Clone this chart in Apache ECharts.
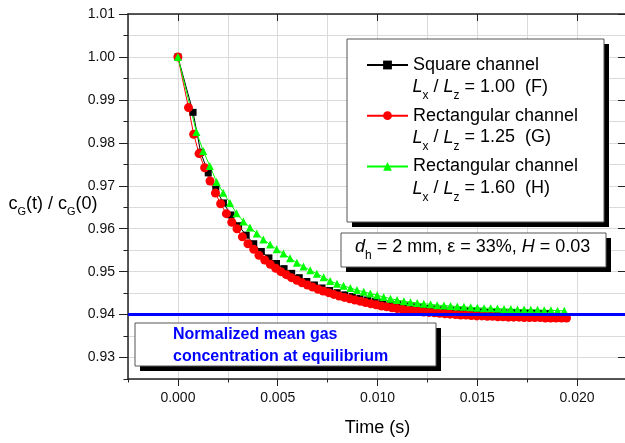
<!DOCTYPE html>
<html>
<head>
<meta charset="utf-8">
<script src="https://cdn.jsdelivr.net/npm/echarts@6/dist/echarts.min.js"></script>
<style>
  html, body { margin: 0; padding: 0; background: #fff; }
  #chart { width: 625px; height: 443px; }
</style>
</head>
<body>
<div id="chart"></div>
<script>
// tick labels
const xTicks = [0, 0.005, 0.010, 0.015, 0.020];
const yTicks = [0.93, 0.94, 0.95, 0.96, 0.97, 0.98, 0.99, 1.00, 1.01];
const equilibrium = 0.94;

// (F) square channel, Lx/Lz = 1.00
const tSquare = [0, 0.00076, 0.00114, 0.00152, 0.00190, 0.00228, 0.00266, 0.00304, 0.00342, 0.00380,
  0.00418, 0.00456, 0.00494, 0.00532, 0.00570, 0.00608, 0.00646, 0.00684, 0.00722, 0.00760,
  0.00798, 0.00836, 0.00874, 0.00912, 0.00950, 0.00988, 0.01026, 0.01064, 0.01102, 0.01140,
  0.01178, 0.01216, 0.01254, 0.01292, 0.01330, 0.01368, 0.01406, 0.01444, 0.01482, 0.01520,
  0.01558, 0.01596, 0.01634, 0.01672, 0.01710, 0.01748, 0.01786, 0.01824, 0.01862];
const cSquare = [1.0000, 0.9871, 0.9778, 0.9730, 0.9692, 0.9660, 0.9632, 0.9607, 0.9585, 0.9565,
  0.9547, 0.9532, 0.9519, 0.9507, 0.9496, 0.9486, 0.9477, 0.9469, 0.9462, 0.9456,
  0.9451, 0.9446, 0.9442, 0.9438, 0.9434, 0.9431, 0.9428, 0.9425, 0.9423, 0.9420,
  0.9418, 0.9416, 0.9414, 0.9413, 0.9411, 0.9410, 0.9409, 0.9408, 0.9407, 0.9406,
  0.9405, 0.9405, 0.9404, 0.9404, 0.9403, 0.9403, 0.9403, 0.9402, 0.9402];

// (G) rectangular channel, Lx/Lz = 1.25
const tRect125 = [0, 0.00053, 0.00079, 0.00106, 0.00134, 0.00161, 0.00188, 0.00214, 0.00243, 0.00270,
  0.00296, 0.00323, 0.00351, 0.00380, 0.00406, 0.00435, 0.00463, 0.00490, 0.00516, 0.00543,
  0.00569, 0.00596, 0.00622, 0.00649, 0.00675, 0.00702, 0.00728, 0.00755, 0.00781, 0.00808,
  0.00834, 0.00861, 0.00887, 0.00914, 0.00940, 0.00967, 0.00993, 0.01020, 0.01046, 0.01073,
  0.01099, 0.01126, 0.01152, 0.01179, 0.01205, 0.01232, 0.01258, 0.01285, 0.01311, 0.01338,
  0.01364, 0.01391, 0.01417, 0.01444, 0.01470, 0.01497, 0.01523, 0.01550, 0.01576, 0.01603,
  0.01629, 0.01656, 0.01682, 0.01709, 0.01735, 0.01762, 0.01788, 0.01815, 0.01841, 0.01868,
  0.01894, 0.01921, 0.01947];
const cRect125 = [1.0000, 0.9882, 0.9820, 0.9775, 0.9742, 0.9711, 0.9683, 0.9658, 0.9635, 0.9615,
  0.9600, 0.9581, 0.9565, 0.9552, 0.9538, 0.9527, 0.9517, 0.9508, 0.9500, 0.9493,
  0.9486, 0.9480, 0.9474, 0.9469, 0.9464, 0.9459, 0.9455, 0.9451, 0.9447, 0.9443,
  0.9440, 0.9437, 0.9434, 0.9431, 0.9428, 0.9425, 0.9423, 0.9420, 0.9418, 0.9416,
  0.9414, 0.9412, 0.9410, 0.9409, 0.9407, 0.9406, 0.9405, 0.9404, 0.9403, 0.9402,
  0.9401, 0.9400, 0.9399, 0.9399, 0.9398, 0.9397, 0.9397, 0.9396, 0.9396, 0.9395,
  0.9395, 0.9394, 0.9394, 0.9394, 0.9393, 0.9393, 0.9393, 0.9393, 0.9392, 0.9392,
  0.9392, 0.9392, 0.9392];

// (H) rectangular channel, Lx/Lz = 1.60
const tRect160 = [0, 0.00093, 0.00127, 0.00160, 0.00194, 0.00227, 0.00261, 0.00294, 0.00328, 0.00361,
  0.00395, 0.00428, 0.00462, 0.00495, 0.00529, 0.00562, 0.00596, 0.00629, 0.00663, 0.00696,
  0.00730, 0.00763, 0.00797, 0.00830, 0.00864, 0.00897, 0.00931, 0.00964, 0.00998, 0.01031,
  0.01065, 0.01098, 0.01132, 0.01165, 0.01199, 0.01232, 0.01266, 0.01299, 0.01333, 0.01366,
  0.01400, 0.01433, 0.01467, 0.01500, 0.01534, 0.01567, 0.01601, 0.01634, 0.01668, 0.01701,
  0.01735, 0.01768, 0.01802, 0.01835, 0.01869, 0.01902, 0.01936];
const cRect160 = [1.0000, 0.9825, 0.9781, 0.9746, 0.9709, 0.9684, 0.9660, 0.9636, 0.9617, 0.9603,
  0.9589, 0.9575, 0.9563, 0.9552, 0.9542, 0.9531, 0.9521, 0.9512, 0.9503, 0.9495,
  0.9487, 0.9478, 0.9472, 0.9467, 0.9462, 0.9457, 0.9453, 0.9449, 0.9445, 0.9441,
  0.9437, 0.9434, 0.9431, 0.9429, 0.9427, 0.9425, 0.9424, 0.9422, 0.9421, 0.9420,
  0.9419, 0.9418, 0.9417, 0.9416, 0.9415, 0.9415, 0.9414, 0.9413, 0.9413, 0.9412,
  0.9412, 0.9411, 0.9411, 0.9410, 0.9410, 0.9409, 0.9409];

const seriesNames = ['F', 'G', 'H'];
const legendLines = ['Square channel', 'Rectangular channel', 'Rectangular channel'];
const ratioLabels = ['1.00  (F)', '1.25  (G)', '1.60  (H)'];

const FONT = '"Liberation Sans", Arial, sans-serif';
const AXIS = '#222';

function zip(t, c) {
  const n = Math.min(t.length, c.length);
  const out = [];
  for (let i = 0; i < n; i++) out.push([t[i], c[i]]);
  return out;
}

// lays out runs of text (italics, subscripts) as graphic text pieces
const measure = document.createElement('canvas').getContext('2d');
function textRun(x, baseline, parts, color, bold) {
  const out = [];
  let cx = x;
  parts.forEach(p => {
    const size = p.size || 18;
    const italic = p.italic ? 'italic' : 'normal';
    const weight = bold ? 'bold' : 'normal';
    measure.font = italic + ' ' + weight + ' ' + size + 'px ' + FONT;
    out.push({
      type: 'text', z: 20, silent: true,
      x: cx, y: baseline + (p.dy || 0) - 0.35 * size,
      style: {
        text: p.t, fill: color, fontSize: size, fontFamily: FONT,
        fontStyle: italic, fontWeight: weight,
        align: 'left', verticalAlign: 'middle'
      }
    });
    cx += measure.measureText(p.t).width;
  });
  return out;
}

function shadowBox(x, y, w, h) {
  return [
    { type: 'rect', z: 10, silent: true, shape: { x: x + 5, y: y + 5, width: w, height: h }, style: { fill: '#000' } },
    { type: 'rect', z: 11, silent: true, shape: { x: x, y: y, width: w, height: h }, style: { fill: '#fff', stroke: '#555', lineWidth: 1 } }
  ];
}

const graphics = [];
graphics.push(...shadowBox(347, 39, 257, 183));
graphics.push(...shadowBox(341, 233, 265, 34));
graphics.push(...shadowBox(135, 323, 301, 43));

// second line of each legend entry
const ratioBaselines = [93.3, 143.8, 194.8];
ratioLabels.forEach((r, i) => {
  graphics.push(...textRun(412.5, ratioBaselines[i], [
    { t: 'L', italic: true }, { t: 'x', size: 12, dy: 7 },
    { t: ' / ' }, { t: 'L', italic: true }, { t: 'z', size: 12, dy: 7 },
    { t: ' = ' + r }
  ], '#000'));
});

// parameters box
graphics.push(...textRun(355, 253.3, [
  { t: 'd', italic: true }, { t: 'h', size: 12, dy: 7 },
  { t: ' = 2 mm, ε = 33%, ' }, { t: 'H', italic: true }, { t: ' = 0.03' }
], '#000'));

// equilibrium note
graphics.push(...textRun(173, 340.5, [{ t: 'Normalized mean gas', size: 16 }], '#0000ff', true));
graphics.push(...textRun(173, 361.7, [{ t: 'concentration at equilibrium', size: 16 }], '#0000ff', true));

// y axis title
graphics.push(...textRun(8.5, 210, [
  { t: 'c' }, { t: 'G', size: 11, dy: 6 }, { t: '(t) / c' }, { t: 'G', size: 11, dy: 6 }, { t: '(0)' }
], '#000'));

const chart = echarts.init(document.getElementById('chart'), null, { renderer: 'canvas' });

const xRange = { min: -0.0025, max: 0.0225 };
const yRange = { min: 0.925, max: 1.01 };

const option = {
  animation: false,
  textStyle: { fontFamily: FONT },
  grid: { left: 128, top: 14, width: 499, height: 365, containLabel: false, outerBoundsMode: 'none' },
  legend: {
    orient: 'vertical',
    left: 366, top: 56, padding: 0,
    itemWidth: 41, itemHeight: 11, itemGap: 32.7,
    selectedMode: false,
    data: seriesNames,
    formatter: name => legendLines[seriesNames.indexOf(name)],
    textStyle: { fontSize: 18, color: '#000', lineHeight: 18, fontFamily: FONT },
    z: 15
  },
  xAxis: [
    {
      type: 'value', ...xRange, interval: 0.0025, position: 'bottom',
      axisLine: { show: true, onZero: false, lineStyle: { color: AXIS, width: 1.5 } },
      axisTick: { show: true, length: 3.5, lineStyle: { color: AXIS } },
      axisLabel: { show: false },
      splitLine: { show: true, lineStyle: { color: '#dadada', width: 1 } }
    },
    {
      type: 'value', ...xRange, position: 'bottom',
      axisLine: { show: false, onZero: false },
      axisTick: { show: true, length: 7, customValues: xTicks, lineStyle: { color: AXIS } },
      axisLabel: {
        show: true, customValues: xTicks, margin: 12, fontSize: 14, color: '#111',
        formatter: v => v.toFixed(3)
      },
      splitLine: { show: false },
      name: 'Time (s)', nameLocation: 'middle', nameGap: 40,
      nameTextStyle: { fontSize: 18, color: '#000' }
    },
    {
      type: 'value', ...xRange, position: 'top',
      axisLine: { show: true, onZero: false, lineStyle: { color: AXIS, width: 1.5 } },
      axisTick: { show: true, inside: true, length: 7, customValues: xTicks, lineStyle: { color: AXIS } },
      axisLabel: { show: false },
      splitLine: { show: false }
    }
  ],
  yAxis: [
    {
      type: 'value', ...yRange, interval: 0.005, position: 'left',
      axisLine: { show: true, onZero: false, lineStyle: { color: AXIS, width: 1.5 } },
      axisTick: { show: true, length: 4.5, lineStyle: { color: AXIS } },
      axisLabel: { show: false },
      splitLine: { show: true, lineStyle: { color: '#dadada', width: 1 } }
    },
    {
      type: 'value', ...yRange, position: 'left',
      axisLine: { show: false, onZero: false },
      axisTick: { show: true, length: 9, customValues: yTicks, lineStyle: { color: AXIS } },
      axisLabel: {
        show: true, customValues: yTicks, margin: 13, fontSize: 14, color: '#111',
        formatter: v => v.toFixed(2)
      },
      splitLine: { show: false }
    },
    {
      type: 'value', ...yRange, interval: 0.005, position: 'right',
      axisLine: { show: true, onZero: false, lineStyle: { color: AXIS, width: 1.5 } },
      axisTick: { show: true, inside: true, length: 9, customValues: yTicks, lineStyle: { color: AXIS } },
      axisLabel: { show: false },
      splitLine: { show: false }
    }
  ],
  series: [
    {
      name: 'F', type: 'line', xAxisIndex: 0, yAxisIndex: 0,
      data: zip(tSquare, cSquare),
      symbol: 'rect', symbolSize: 7,
      itemStyle: { color: '#000', borderWidth: 0 },
      lineStyle: { color: '#000', width: 1 }
    },
    {
      name: 'G', type: 'line', xAxisIndex: 0, yAxisIndex: 0,
      data: zip(tRect125, cRect125),
      symbol: 'circle', symbolSize: 9,
      itemStyle: { color: '#ff0000', borderWidth: 0 },
      lineStyle: { color: '#ff0000', width: 1 }
    },
    {
      name: 'H', type: 'line', xAxisIndex: 0, yAxisIndex: 0,
      data: zip(tRect160, cRect160),
      symbol: 'triangle', symbolSize: 8,
      itemStyle: { color: '#00ff00', borderWidth: 0 },
      lineStyle: { color: '#00ff00', width: 1 }
    },
    {
      // equilibrium level, drawn above the curves
      name: 'equilibrium', type: 'line', xAxisIndex: 0, yAxisIndex: 0,
      data: [], z: 6,
      markLine: {
        silent: true, symbol: ['none', 'none'], animation: false,
        label: { show: false },
        lineStyle: { color: '#0000ff', width: 3, type: 'solid' },
        data: [{ yAxis: equilibrium }]
      }
    }
  ],
  graphic: graphics
};

chart.setOption(option);
</script>
</body>
</html>
